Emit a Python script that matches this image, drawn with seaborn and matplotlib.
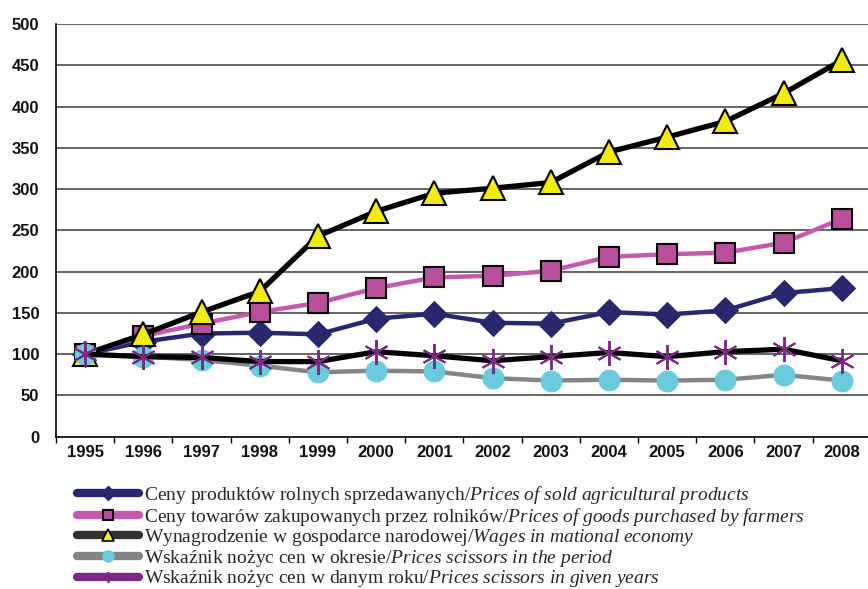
import numpy as np
import pandas as pd
import matplotlib
matplotlib.use("Agg")
import matplotlib.pyplot as plt
from matplotlib.lines import Line2D
import seaborn as sns

years = ["1995", "1996", "1997", "1998", "1999", "2000", "2001", "2002",
         "2003", "2004", "2005", "2006", "2007", "2008"]
sold_prices = [100, 115, 125, 126, 124, 143, 149, 138, 137, 151, 148, 153, 174, 180]
purchased_prices = [100, 122, 137, 151, 162, 180, 193, 195, 201, 218, 221, 223, 235, 264]
wages = [100, 124, 151, 176, 243, 273, 295, 301, 308, 345, 363, 382, 416, 456]
scissors_period = [100, 97, 93, 86, 78, 80, 79, 71, 68, 69, 68, 69, 75, 68]
scissors_year = [100, 97, 96, 91, 91, 103, 98, 92, 97, 102, 97, 103, 106, 92]

labels = [
    r"Ceny produktów rolnych sprzedawanych/$\mathit{Prices\ of\ sold\ agricultural\ products}$",
    r"Ceny towarów zakupowanych przez rolników/$\mathit{Prices\ of\ goods\ purchased\ by\ farmers}$",
    r"Wynagrodzenie w gospodarce narodowej/$\mathit{Wages\ in\ mational\ economy}$",
    r"Wskaźnik nożyc cen w okresie/$\mathit{Prices\ scissors\ in\ the\ period}$",
    r"Wskaźnik nożyc cen w danym roku/$\mathit{Prices\ scissors\ in\ given\ years}$",
]

sns.set_theme(style="white")
plt.rcParams["font.family"] = ["Liberation Sans", "DejaVu Sans"]
plt.rcParams["mathtext.fontset"] = "custom"
plt.rcParams["mathtext.rm"] = "Liberation Serif"
plt.rcParams["mathtext.it"] = "Liberation Serif:italic"
plt.rcParams["mathtext.bf"] = "Liberation Serif:bold"

fig = plt.figure(figsize=(8.68, 5.89), dpi=100)
ax = fig.add_axes([56/868, 1-436.7/589, (868-56)/868, (436.7-24)/589])

idx = np.arange(len(years))

NAVY = "#28286F"
PINK = "#BA4E9E"
PINK_LINE = "#C45AAE"
YELLOW = "#F3EA12"
CYAN = "#6ACBDC"
GRAY = "#858585"
PURPLE = "#7A2A82"

series = [
    (sold_prices, NAVY, 3.2, dict(marker="D", markersize=13, markerfacecolor=NAVY, markeredgecolor=NAVY)),
    (purchased_prices, PINK_LINE, 3.2, dict(marker="s", markersize=15, markerfacecolor=PINK, markeredgecolor="black", markeredgewidth=1.5)),
    (wages, "black", 3.8, dict(marker="^", markersize=17, markerfacecolor=YELLOW, markeredgecolor="black", markeredgewidth=1.5)),
    (scissors_period, GRAY, 3.2, dict(marker="o", markersize=15, markerfacecolor=CYAN, markeredgecolor=CYAN)),
    (scissors_year, "black", 3.8, dict(marker=(6, 2, 0), markersize=18, markerfacecolor=PURPLE, markeredgecolor=PURPLE, markeredgewidth=1.4)),
]

for i, (vals, lc, lw, mk) in enumerate(series):
    df = pd.DataFrame({"x": idx, "y": vals})
    sns.lineplot(data=df, x="x", y="y", ax=ax, color=lc, linewidth=lw, legend=False,
                 zorder=3 + i, **mk)

ax.set_xlim(-0.5, 13.45)
ax.set_ylim(0, 500)
ax.set_yticks(np.arange(0, 501, 50))
ax.set_xticks(idx)
ax.set_xticklabels(years)
ax.set_xticks(np.arange(-0.5, 13, 1), minor=True)
ax.set_xlabel("")
ax.set_ylabel("")

for y in np.arange(50, 501, 50):
    ax.axhline(y, color="#3a3a3a", linewidth=1.1, zorder=1)

for s in ["top", "right"]:
    ax.spines[s].set_visible(False)
for s in ["left", "bottom"]:
    ax.spines[s].set_color("black")
    ax.spines[s].set_linewidth(1.2)

ax.tick_params(axis="y", which="major", direction="out", length=5, width=1, color="black",
               pad=7, labelsize=12)
ax.tick_params(axis="x", which="major", length=0, pad=6, labelsize=12)
ax.tick_params(axis="x", which="minor", direction="out", length=4, width=1, color="black", bottom=True)
for lab in ax.get_xticklabels() + ax.get_yticklabels():
    lab.set_fontweight("bold")
    lab.set_color("#111111")

handles = [
    Line2D([], [], color=NAVY, linewidth=6, marker="D", markersize=7, markerfacecolor=NAVY, markeredgecolor=NAVY),
    Line2D([], [], color=PINK_LINE, linewidth=6, marker="s", markersize=7, markerfacecolor=PINK, markeredgecolor="black", markeredgewidth=1.5),
    Line2D([], [], color="#333333", linewidth=6, marker="^", markersize=8, markerfacecolor=YELLOW, markeredgecolor="black", markeredgewidth=1.2),
    Line2D([], [], color=GRAY, linewidth=6, marker="o", markersize=8, markerfacecolor=CYAN, markeredgecolor=CYAN),
    Line2D([], [], color=PURPLE, linewidth=6, marker=(6, 2, 0), markersize=8, markerfacecolor=PURPLE, markeredgecolor=PURPLE, markeredgewidth=1.2),
]
leg = fig.legend(handles, labels, loc="upper left", bbox_to_anchor=(77/868, 1-484/589),
                 frameon=False, prop={"family": "Liberation Serif", "size": 14},
                 handlelength=3.2, handletextpad=0.26, labelspacing=-0.02,
                 borderaxespad=0, borderpad=0)

fig.savefig("out.png", dpi=100)
